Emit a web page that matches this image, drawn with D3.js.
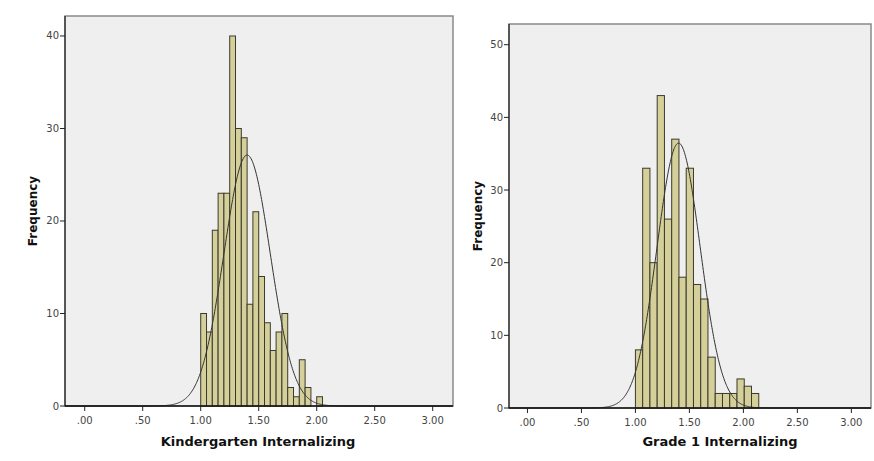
<!DOCTYPE html>
<html>
<head>
<meta charset="utf-8">
<script src="https://cdn.jsdelivr.net/npm/d3@7"></script>
<style>
  body { margin: 0; background: #fff; }
  svg { display: block; font-family: 'DejaVu Sans', sans-serif; }
</style>
</head>
<body>
<div id="chart"></div>
<script>
// histogram counts
const kgBinStart = 1.00;
const kgBinWidth = 0.05;
const kgCounts = [10, 8, 19, 23, 23, 40, 30, 29, 11, 21, 14, 9, 6, 8, 10, 2, 1, 5, 2, 0, 1];
const kgMean = 1.40;
const kgSd = 0.20;

const g1BinStart = 1.00;
const g1BinWidth = 0.0672;
const g1Counts = [8, 33, 20, 43, 26, 37, 18, 33, 17, 15, 7, 2, 2, 2, 4, 3, 2];
const g1Mean = 1.40;
const g1Sd = 0.20;

const xTicks = [0, 0.5, 1, 1.5, 2, 2.5, 3];
const kgYTicks = [0, 10, 20, 30, 40];
const g1YTicks = [0, 10, 20, 30, 40, 50];

const width = 874;
const height = 461;

const svg = d3.select('#chart')
  .append('svg')
  .attr('width', width)
  .attr('height', height);

const fmtTick = d => d3.format('.2f')(d).replace(/^0/, '');

function drawPanel(opts) {
  const { left, right, top, bottom, xDomain, yMax, counts, binStart, binWidth,
    mean, sd, yTicks, title, titleX, yLabelX } = opts;

  const x = d3.scaleLinear().domain(xDomain).range([left, right]);
  const y = d3.scaleLinear().domain([0, yMax]).range([bottom, top]);
  const g = svg.append('g');

  // plot background + frame
  g.append('rect')
    .attr('x', left).attr('y', top)
    .attr('width', right - left).attr('height', bottom - top)
    .attr('fill', '#efefef')
    .attr('stroke', '#8a8a8a')
    .attr('stroke-width', 1.5);

  // bars
  g.selectAll('rect.bar')
    .data(counts.map((c, i) => ({ x0: binStart + i * binWidth, x1: binStart + (i + 1) * binWidth, c })))
    .enter()
    .filter(d => d.c > 0)
    .append('rect')
    .attr('class', 'bar')
    .attr('x', d => x(d.x0))
    .attr('y', d => y(d.c))
    .attr('width', d => x(d.x1) - x(d.x0))
    .attr('height', d => y(0) - y(d.c))
    .attr('fill', '#d5d09a')
    .attr('stroke', '#3b3a2e')
    .attr('stroke-width', 1);

  // normal curve
  const n = d3.sum(counts);
  const pts = d3.range(xDomain[0], xDomain[1], 0.005).map(v => {
    const z = (v - mean) / sd;
    return [v, n * binWidth * Math.exp(-0.5 * z * z) / (sd * Math.sqrt(2 * Math.PI))];
  });
  g.append('path')
    .datum(pts)
    .attr('fill', 'none')
    .attr('stroke', '#333')
    .attr('stroke-width', 1)
    .attr('d', d3.line().x(d => x(d[0])).y(d => y(d[1])));

  // axis lines
  g.append('line')
    .attr('x1', left).attr('x2', left).attr('y1', top).attr('y2', bottom)
    .attr('stroke', '#222').attr('stroke-width', 1.2);
  g.append('line')
    .attr('x1', left).attr('x2', right).attr('y1', bottom).attr('y2', bottom)
    .attr('stroke', '#111').attr('stroke-width', 1.5);

  // y ticks
  yTicks.forEach(t => {
    g.append('line')
      .attr('x1', left - 5).attr('x2', left).attr('y1', y(t)).attr('y2', y(t))
      .attr('stroke', '#222');
    g.append('text')
      .attr('x', left - 6).attr('y', y(t)).attr('dy', '0.35em')
      .attr('text-anchor', 'end')
      .attr('font-size', 10).attr('fill', '#444')
      .text(t);
  });

  // x ticks
  xTicks.forEach(t => {
    g.append('line')
      .attr('x1', x(t)).attr('x2', x(t)).attr('y1', bottom).attr('y2', bottom + 5)
      .attr('stroke', '#222');
    g.append('text')
      .attr('x', x(t)).attr('y', bottom + 18)
      .attr('text-anchor', 'middle')
      .attr('font-size', 10).attr('fill', '#444')
      .text(fmtTick(t));
  });

  g.append('text')
    .attr('x', titleX).attr('y', 446)
    .attr('text-anchor', 'middle')
    .attr('font-size', 13).attr('font-weight', 'bold').attr('fill', '#111')
    .text(title);

  g.append('text')
    .attr('transform', `translate(${yLabelX},${(top + bottom) / 2}) rotate(-90)`)
    .attr('text-anchor', 'middle')
    .attr('font-size', 12).attr('font-weight', 'bold').attr('fill', '#111')
    .text('Frequency');
}

drawPanel({
  left: 65, right: 453, top: 16, bottom: 406,
  xDomain: [-0.17, 3.175], yMax: 42.16,
  counts: kgCounts, binStart: kgBinStart, binWidth: kgBinWidth,
  mean: kgMean, sd: kgSd, yTicks: kgYTicks,
  title: 'Kindergarten Internalizing', titleX: 258, yLabelX: 37
});

drawPanel({
  left: 509, right: 871, top: 24, bottom: 408,
  xDomain: [-0.171, 3.182], yMax: 52.85,
  counts: g1Counts, binStart: g1BinStart, binWidth: g1BinWidth,
  mean: g1Mean, sd: g1Sd, yTicks: g1YTicks,
  title: 'Grade 1 Internalizing', titleX: 720, yLabelX: 482
});
</script>
</body>
</html>
